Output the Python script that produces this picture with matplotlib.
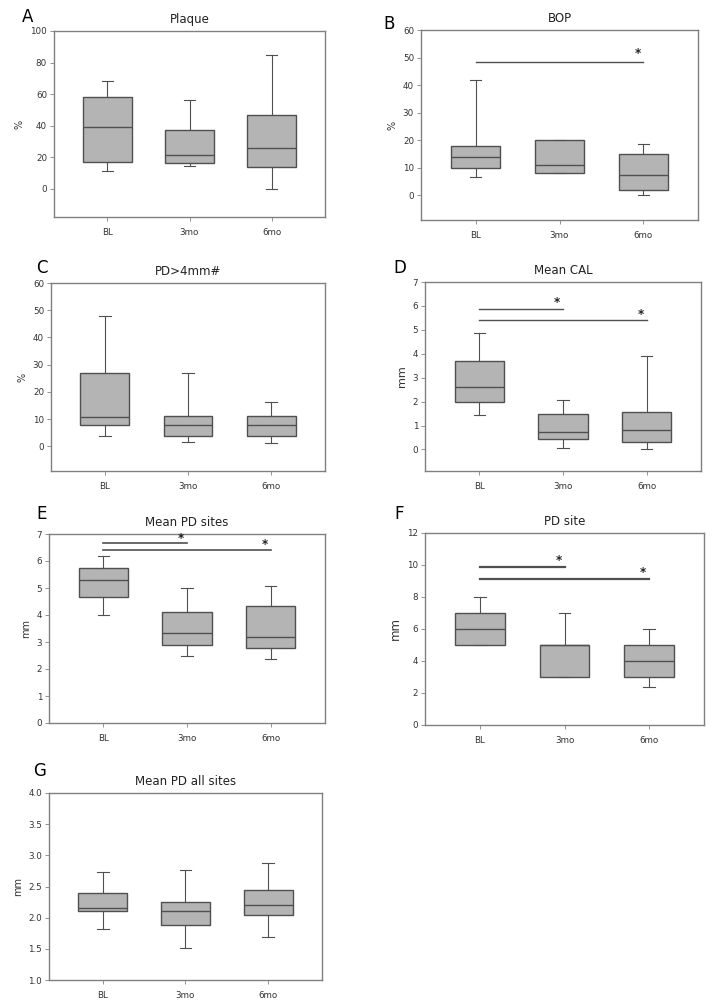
import numpy as np
import matplotlib
matplotlib.use('Agg')
import matplotlib.pyplot as plt

groups = ['BL', '3mo', '6mo']

# each row: whisker low, q1, median, q3, whisker high
plaque = [[11, 17, 39, 58, 68], [14.5, 16.5, 21.5, 37, 56], [0, 14, 25.5, 47, 85]]
bop = [[6.5, 10, 14, 18, 42], [8, 8, 11, 20, 20], [0, 2, 7.5, 15, 18.7]]
pd4 = [[3.8, 8, 11, 27, 48], [1.8, 3.7, 7.7, 11.3, 26.8], [1.3, 4, 7.7, 11.3, 16.4]]
cal = [[1.45, 2.0, 2.6, 3.7, 4.88], [0.08, 0.45, 0.72, 1.5, 2.07], [0.02, 0.3, 0.8, 1.57, 3.9]]
pd_sites = [[4.0, 4.67, 5.3, 5.75, 6.2], [2.48, 2.9, 3.35, 4.12, 5.0], [2.38, 2.78, 3.18, 4.35, 5.07]]
pd_site = [[5, 5, 6, 7, 8], [3, 3, 5, 5, 7], [2.4, 3, 4, 5, 6]]
pd_all = [[1.82, 2.1, 2.16, 2.4, 2.74], [1.51, 1.88, 2.1, 2.25, 2.76], [1.69, 2.04, 2.2, 2.45, 2.87]]

# significance bars: (from group, to group, y of line)
sig_bop = [(1, 3, 48.5)]
sig_cal = [(1, 2, 5.88), (1, 3, 5.4)]
sig_pd_sites = [(1, 2, 6.65), (1, 3, 6.42)]
sig_pd_site = [(1, 2, 9.85), (1, 3, 9.1)]

W, H = 714, 1006
edge = '#505050'
fill = '#b4b4b4'
spine = '#808080'

fig = plt.figure(figsize=(W / 100, H / 100), dpi=100)


def px_axes(x0, y0, x1, y1):
    return fig.add_axes([x0 / W, 1 - y1 / H, (x1 - x0) / W, (y1 - y0) / H])


def panel(box, rows, title, letter, letter_xy, ylabel, ylim, yticks, yfmt, sigs=(), star_dy=0, lw_sig=1.0, ylab_size=7):
    ax = px_axes(*box)
    stats = [dict(whislo=r[0], q1=r[1], med=r[2], q3=r[3], whishi=r[4], label=g)
             for r, g in zip(rows, groups)]
    ax.bxp(stats, positions=[1, 2, 3], widths=0.59, showfliers=False, patch_artist=True,
           boxprops=dict(facecolor=fill, edgecolor=edge, linewidth=1.0),
           medianprops=dict(color=edge, linewidth=1.0),
           whiskerprops=dict(color=edge, linewidth=0.8),
           capprops=dict(color=edge, linewidth=0.8), capwidths=0.14)
    ax.set_xlim(0.35, 3.65)
    ax.set_ylim(*ylim)
    ax.set_yticks(yticks)
    ax.set_yticklabels([yfmt.format(t) for t in yticks])
    ax.tick_params(labelsize=6.3, length=3, width=0.6, color=spine, labelcolor='#333333', pad=2)
    ax.tick_params(axis='x', pad=5)
    for s in ax.spines.values():
        s.set_color(spine)
        s.set_linewidth(1.0)
    ax.set_ylabel(ylabel, fontsize=ylab_size, color='#333333', labelpad=4)
    ax.set_title(title, fontsize=8.5, color='#222222', pad=6)
    for a, b, y in sigs:
        ax.plot([a, b], [y, y], color=edge, linewidth=lw_sig)
        ax.text(b - 0.07, y + star_dy, '*', ha='center', va='center', fontsize=8.5,
                fontweight='bold', color='#222222')
    fig.text(letter_xy[0] / W, 1 - letter_xy[1] / H, letter, fontsize=12, ha='center', va='center')
    return ax


panel((54, 31, 325, 217), plaque, 'Plaque', 'A', (28, 17), '%', (-18, 100), [0, 20, 40, 60, 80, 100], '{:g}')
panel((421, 30, 698, 220), bop, 'BOP', 'B', (389, 24), '%', (-9, 60), [0, 10, 20, 30, 40, 50, 60], '{:g}',
      sigs=sig_bop, star_dy=3.0)
panel((51, 283, 325, 471), pd4, 'PD>4mm#', 'C', (42, 268), '%', (-9, 60), [0, 10, 20, 30, 40, 50, 60], '{:g}')
panel((425, 282, 701, 471), cal, 'Mean CAL', 'D', (400, 268), 'mm', (-0.9, 7), list(range(8)), '{:g}',
      sigs=sig_cal, star_dy=0.25, ylab_size=8)
panel((49, 534, 325, 723), pd_sites, 'Mean PD sites', 'E', (42, 514), 'mm', (0, 7), list(range(8)), '{:g}',
      sigs=sig_pd_sites, star_dy=0.18, lw_sig=1.2)
panel((425, 533, 704, 725), pd_site, 'PD site', 'F', (399, 514), 'mm', (0, 12), [0, 2, 4, 6, 8, 10, 12], '{:g}',
      sigs=sig_pd_site, star_dy=0.45, lw_sig=1.6, ylab_size=8.5)
panel((49, 793, 322, 980), pd_all, 'Mean PD all sites', 'G', (40, 771), 'mm', (1.0, 4.0),
      [1.0, 1.5, 2.0, 2.5, 3.0, 3.5, 4.0], '{:.1f}')

fig.savefig('out.png', dpi=100, facecolor='white')
